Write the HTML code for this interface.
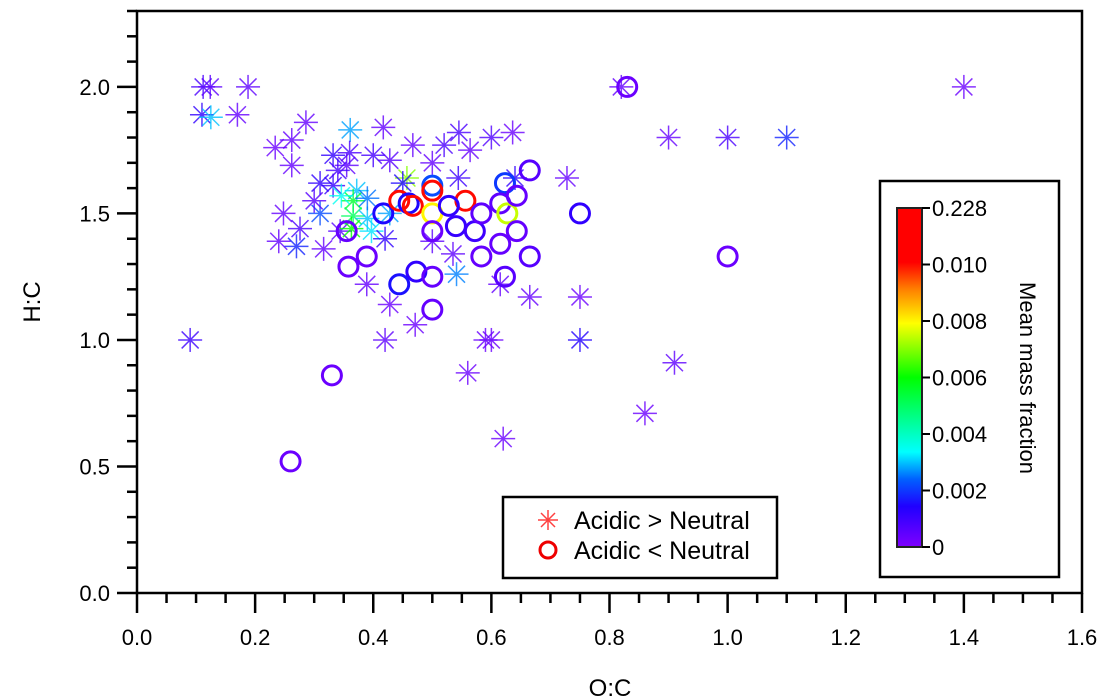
<!DOCTYPE html>
<html><head><meta charset="utf-8"><style>
html,body{margin:0;padding:0;background:#fff;}
svg{display:block;font-family:"Liberation Sans",sans-serif;}
</style></head><body>
<svg id="chart" width="1102" height="699" viewBox="0 0 1102 699">
<defs>
<linearGradient id="cbar" x1="0" y1="1" x2="0" y2="0">
<stop offset="0" stop-color="#7f00ff"/><stop offset="0.12" stop-color="#2000ff"/><stop offset="0.2" stop-color="#0060ff"/>
<stop offset="0.28" stop-color="#00ffff"/><stop offset="0.5" stop-color="#00ff00"/><stop offset="0.66" stop-color="#ffff00"/>
<stop offset="0.76" stop-color="#ff8000"/><stop offset="0.84" stop-color="#ff0000"/><stop offset="1" stop-color="#ff0000"/>
</linearGradient>
</defs>
<g id="marks"></g>
<rect x="137" y="11" width="945" height="582" fill="none" stroke="#000" stroke-width="2.5"/>
<g id="axes"></g>
<text x="610" y="696" font-size="24" text-anchor="middle">O:C</text>
<text transform="translate(40,302) rotate(-90)" font-size="24" text-anchor="middle">H:C</text>
<g>
<rect x="503" y="497" width="274" height="81" fill="#fff" stroke="#000" stroke-width="2.5"/>
<g stroke="#ff4040" stroke-width="1.5">
<line x1="548" y1="510" x2="548" y2="530"/><line x1="538" y1="520" x2="558" y2="520"/><line x1="541" y1="513" x2="555" y2="527"/><line x1="555" y1="513" x2="541" y2="527"/></g>
<circle cx="548" cy="550" r="8" fill="none" stroke="#ee0000" stroke-width="3"/>
<text x="574" y="529" font-size="25">Acidic &gt; Neutral</text>
<text x="574" y="559" font-size="25">Acidic &lt; Neutral</text>
</g>
<g>
<rect x="880" y="181" width="179" height="396" fill="#fff" stroke="#000" stroke-width="2.5"/>
<rect x="897" y="208" width="25" height="339" fill="url(#cbar)" stroke="#222" stroke-width="2"/>
<g id="cbticks"></g>
<text transform="translate(1020,378) rotate(90)" font-size="22" text-anchor="middle">Mean mass fraction</text>
</g>
</svg>
<script>
const starX=[0.112,0.124,0.188,0.11,0.125,0.17,0.82,1.40,0.90,1.00,1.10,0.728,0.75,0.665,0.75,0.91,0.86,0.62,0.56,0.59,0.60,0.42,0.09,0.471,0.428,0.389,0.286,0.234,0.262,0.262,0.361,0.417,0.545,0.60,0.636,0.332,0.36,0.355,0.40,0.428,0.467,0.50,0.52,0.564,0.31,0.332,0.372,0.544,0.248,0.276,0.240,0.270,0.31,0.316,0.344,0.50,0.535,0.541,0.615,0.366,0.366,0.363,0.346,0.39,0.397,0.39,0.428,0.457,0.64,0.34,0.45,0.30,0.42];
const starY=[2.0,2.0,2.0,1.89,1.88,1.89,2.0,2.0,1.80,1.80,1.80,1.64,1.17,1.17,1.0,0.91,0.71,0.61,0.87,1.0,1.0,1.0,1.0,1.06,1.14,1.22,1.86,1.76,1.79,1.69,1.83,1.84,1.82,1.80,1.82,1.73,1.74,1.69,1.73,1.71,1.77,1.70,1.77,1.75,1.62,1.61,1.59,1.64,1.50,1.44,1.39,1.37,1.50,1.36,1.43,1.39,1.34,1.26,1.22,1.55,1.49,1.44,1.57,1.48,1.43,1.56,1.50,1.64,1.64,1.67,1.62,1.55,1.40];
const starV=[0.0008,0.0005,0.0005,0.0012,0.003,0.0004,0.0004,0.0003,0.0004,0.0008,0.0018,0.0004,0.0003,0.0004,0.0014,0.0005,0.0003,0.0003,0.0003,0.0003,0.0003,0.0005,0.001,0.0003,0.0003,0.0004,0.0004,0.0003,0.0004,0.0004,0.0028,0.0004,0.0008,0.0007,0.0003,0.0012,0.0008,0.0005,0.0009,0.0006,0.0004,0.0004,0.0008,0.0004,0.0012,0.0011,0.003,0.0010,0.0004,0.0008,0.0004,0.0018,0.0022,0.0004,0.0006,0.0005,0.0005,0.0026,0.0004,0.0055,0.005,0.006,0.0035,0.003,0.0032,0.0025,0.0028,0.007,0.0012,0.0009,0.0015,0.0006,0.0012];
const circX=[0.83,1.0,0.75,0.665,0.33,0.26,0.355,0.389,0.358,0.417,0.444,0.46,0.467,0.50,0.50,0.556,0.50,0.50,0.528,0.54,0.572,0.583,0.623,0.615,0.627,0.643,0.643,0.615,0.583,0.665,0.623,0.473,0.444,0.50,0.50];
const circY=[2.0,1.33,1.50,1.67,0.86,0.52,1.43,1.33,1.29,1.50,1.55,1.54,1.53,1.61,1.59,1.55,1.50,1.43,1.53,1.45,1.43,1.50,1.62,1.54,1.50,1.57,1.43,1.38,1.33,1.33,1.25,1.27,1.22,1.25,1.12];
const circV=[0.0003,0.0003,0.0012,0.0006,0.0003,0.0003,0.0004,0.0003,0.0003,0.0015,0.011,0.0015,0.011,0.0022,0.012,0.011,0.008,0.0003,0.0012,0.0011,0.001,0.0005,0.002,0.0005,0.0075,0.0004,0.0004,0.0004,0.0004,0.0006,0.0006,0.0012,0.0016,0.0004,0.0004];
const xTicks=[0,0.2,0.4,0.6,0.8,1.0,1.2,1.4,1.6];
const yTicks=[0,0.5,1.0,1.5,2.0];
const cbLabels=["0","0.002","0.004","0.006","0.008","0.010","0.228"];

const X0=137,X1=1082,XMAX=1.6,Y0=593,YT=11,YMAX=2.3;
const sx=v=>X0+v/XMAX*(X1-X0);
const sy=v=>Y0-v/YMAX*(Y0-YT);
const NS="http://www.w3.org/2000/svg";
function mk(tag,attrs,parent){const e=document.createElementNS(NS,tag);for(const k in attrs)e.setAttribute(k,attrs[k]);parent.appendChild(e);return e;}
const stops=[[0,[127,0,255]],[0.12,[32,0,255]],[0.2,[0,96,255]],[0.28,[0,255,255]],[0.5,[0,255,0]],[0.66,[255,255,0]],[0.76,[255,128,0]],[0.84,[255,0,0]],[1,[255,0,0]]];
function col(v){let t=v<=0.01?v/0.012:5/6+(v-0.01)/0.218/6;t=Math.max(0,Math.min(1,t));
 for(let i=1;i<stops.length;i++){if(t<=stops[i][0]){const a=stops[i-1],b=stops[i],f=(t-a[0])/(b[0]-a[0]);const c=a[1].map((x,j)=>Math.round(x+(b[1][j]-x)*f));return `rgb(${c})`;}}return "red";}
const marks=document.getElementById('marks');
for(let i=0;i<starX.length;i++){
 const cx=sx(starX[i]),cy=sy(starY[i]),r=12,d=8.5;
 const g=mk('g',{stroke:col(starV[i]),'stroke-width':1.5,opacity:0.8},marks);
 
 
 mk('line',{x1:cx,y1:cy-r,x2:cx,y2:cy+r},g);mk('line',{x1:cx-r,y1:cy,x2:cx+r,y2:cy},g);
 mk('line',{x1:cx-d,y1:cy-d,x2:cx+d,y2:cy+d},g);mk('line',{x1:cx+d,y1:cy-d,x2:cx-d,y2:cy+d},g);
}
for(let i=0;i<circX.length;i++){
 const c=mk('circle',{cx:sx(circX[i]),cy:sy(circY[i]),r:9.5,fill:'none',stroke:col(circV[i]),'stroke-width':3},marks);
 
 
}
const ax=document.getElementById('axes');
for(let k=0;k<=32;k++){const v=k*0.05,x=sx(v),maj=k%4===0;
 mk('line',{x1:x,y1:Y0,x2:x,y2:Y0+(maj?20:10),stroke:'#000','stroke-width':2.5},ax);}
for(let k=0;k<=23;k++){const v=k*0.1,y=sy(v),maj=k%5===0;
 mk('line',{x1:X0,y1:y,x2:X0-(maj?20:10),y2:y,stroke:'#000','stroke-width':2.5},ax);}
xTicks.forEach(v=>{const t=mk('text',{x:sx(v),y:645,'font-size':22,'text-anchor':'middle'},ax);t.textContent=v.toFixed(1);
 
 });
yTicks.forEach(v=>{const t=mk('text',{x:110,y:sy(v)+8,'font-size':22,'text-anchor':'end'},ax);t.textContent=v.toFixed(1);
 
 });
const cb=document.getElementById('cbticks');
cbLabels.forEach((s,i)=>{const y=547-i*(339/6);
 mk('line',{x1:922,y1:y,x2:930,y2:y,stroke:'#000','stroke-width':2},cb);
 const t=mk('text',{x:932,y:y+8,'font-size':22},cb);t.textContent=s;
 
 });
</script>
</body></html>
